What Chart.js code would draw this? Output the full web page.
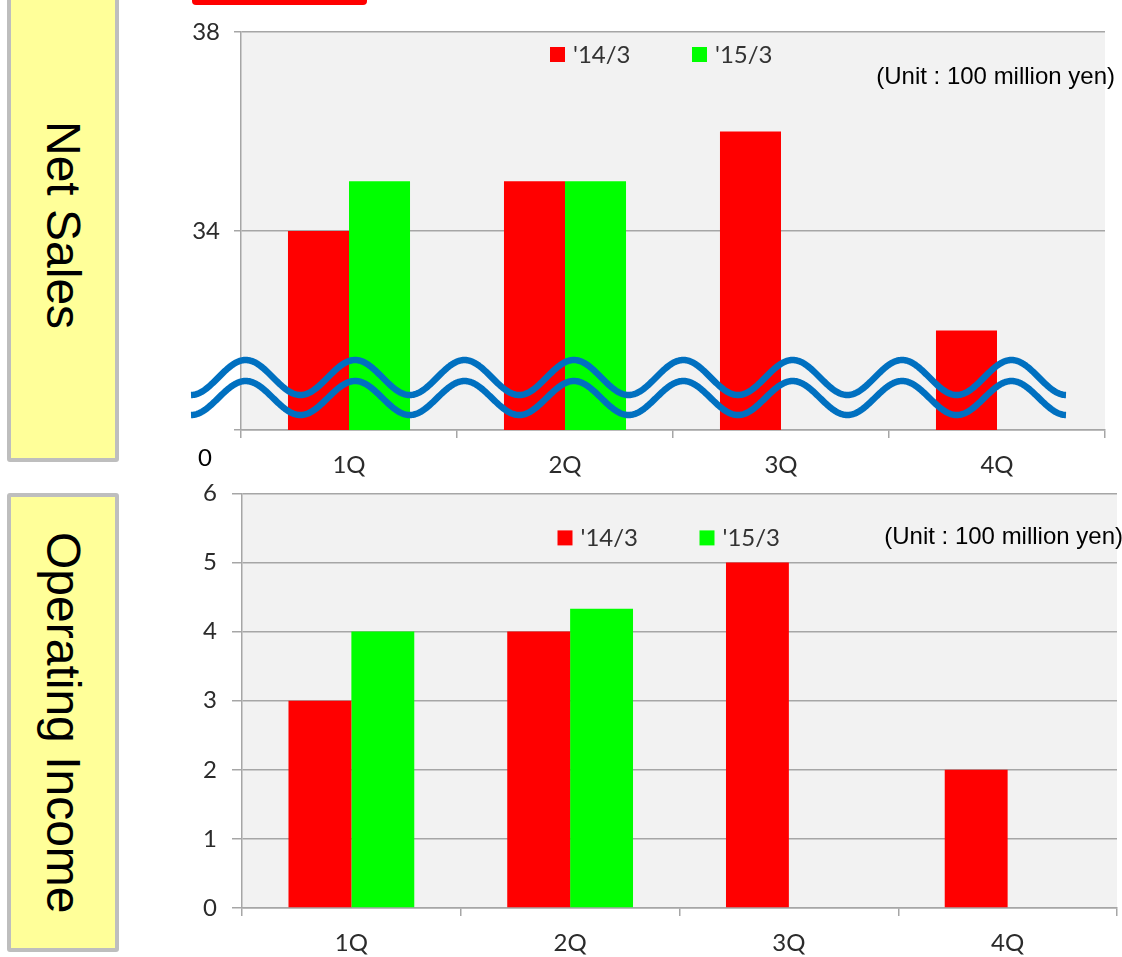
<!DOCTYPE html>
<html>
<head>
<meta charset="utf-8">
<script src="https://cdn.jsdelivr.net/npm/chart.js@4/dist/chart.umd.min.js"></script>
<style>
  html, body { margin: 0; padding: 0; background: #fff; }
  body { width: 1122px; height: 957px; position: relative; overflow: hidden; }
  .side {
    position: absolute; left: 7px; width: 104px;
    background: #FFFF99; border: 4px solid #BEBEBE; border-radius: 3px;
    display: flex; align-items: center; justify-content: center;
  }
  .side span {
    writing-mode: vertical-rl;
    font-family: "Liberation Sans", Arial, sans-serif;
    font-size: 48px; color: #000; white-space: nowrap;
  }
  #tab {
    position: absolute; left: 192px; top: -6px; width: 175px; height: 11px;
    background: #FF0000; border-radius: 4px;
  }
  canvas { position: absolute; left: 140px; }
</style>
</head>
<body>
<div class="side" style="top:-12px;height:466px;"><span>Net Sales</span></div>
<div class="side" style="top:493px;height:451px;"><span>Operating Income</span></div>
<div id="tab"></div>
<canvas id="sales" width="982" height="480" style="top:0;"></canvas>
<canvas id="income" width="982" height="493" style="top:464px;"></canvas>
<script>
// Quarters and fiscal years
const categories = ['1Q', '2Q', '3Q', '4Q'];
const seriesLabels = ["'14/3", "'15/3"];

// Net sales (100 million yen)
const netSales14 = [34, 35, 36, 32];
const netSales15 = [35, 35, null, null];
const netSalesTicks = [30, 34, 38];

// Operating income (100 million yen)
const opIncome14 = [3, 4, 5, 2];
const opIncome15 = [4, 4.33, null, null];
const opIncomeTicks = [0, 1, 2, 3, 4, 5, 6];

const unitText = '(Unit : 100 million yen)';
const seriesColors = ['#FF0000', '#00FF00'];
const gridColor = '#A6A6A6';
const tickColor = '#2B2B2B';
const tickFont = { family: 'Lato, "Open Sans", sans-serif', size: 24 };

// Light grey plot background
const plotBackground = {
  id: 'plotBackground',
  beforeDraw(chart) {
    const { ctx, chartArea: a } = chart;
    ctx.save();
    ctx.fillStyle = '#F2F2F2';
    ctx.fillRect(a.left, a.top, a.right - a.left, a.bottom - a.top);
    ctx.restore();
  }
};

// Legend row and unit note inside the plot area
const innerLegend = {
  id: 'innerLegend',
  afterDatasetsDraw(chart, args, opts) {
    const { ctx, chartArea: a } = chart;
    const cx = (a.left + a.right) / 2 + opts.shift;
    const y = a.top + opts.legendY;
    ctx.save();
    ctx.font = '24px Lato, "Open Sans", sans-serif';
    ctx.textBaseline = 'middle';
    ctx.textAlign = 'left';
    chart.data.datasets.forEach((ds, i) => {
      const x = cx - 110 + i * 142;
      ctx.fillStyle = ds.backgroundColor;
      ctx.fillRect(x, y - 7, 15, 15);
      ctx.fillStyle = '#333';
      ctx.fillText(ds.label, x + 23, y + 1);
    });
    ctx.font = '24px "Liberation Sans", Arial, sans-serif';
    ctx.fillStyle = '#000';
    ctx.textAlign = 'right';
    ctx.fillText(unitText, a.right + opts.unitRight, a.top + opts.unitY);
    ctx.restore();
  }
};

// Axis-break waves across the lower part of the net sales plot, plus the zero mark
const axisBreak = {
  id: 'axisBreak',
  afterDatasetsDraw(chart) {
    const { ctx, chartArea: a } = chart;
    const period = 109.4;
    const x0 = a.left - 50;
    const x1 = x0 + period * 8;
    const waves = [
      { mid: a.bottom - 52.5, amp: 17.5 },
      { mid: a.bottom - 32, amp: 17 }
    ];
    ctx.save();
    ctx.strokeStyle = '#0070C0';
    ctx.lineWidth = 6.5;
    ctx.lineJoin = 'round';
    waves.forEach(w => {
      ctx.beginPath();
      for (let x = x0; x <= x1; x += 1) {
        const y = w.mid + w.amp * Math.cos(2 * Math.PI * (x - x0) / period);
        if (x === x0) ctx.moveTo(x, y); else ctx.lineTo(x, y);
      }
      ctx.stroke();
    });
    ctx.font = '24px Lato, "Open Sans", sans-serif';
    ctx.fillStyle = '#000';
    ctx.textAlign = 'center';
    ctx.textBaseline = 'middle';
    ctx.fillText('0', a.left - 36, a.bottom + 28);
    ctx.restore();
  }
};

function makeChart(id, data14, data15, ticks, opts) {
  return new Chart(document.getElementById(id), {
    type: 'bar',
    data: {
      labels: categories,
      datasets: [
        { label: seriesLabels[0], data: data14, backgroundColor: seriesColors[0], borderWidth: 0 },
        { label: seriesLabels[1], data: data15, backgroundColor: seriesColors[1], borderWidth: 0 }
      ]
    },
    options: {
      responsive: false,
      animation: false,
      devicePixelRatio: 1,
      layout: { padding: opts.padding },
      categoryPercentage: opts.catPct,
      barPercentage: 1,
      plugins: {
        legend: { display: false },
        tooltip: { enabled: false },
        innerLegend: opts.legend
      },
      scales: {
        x: {
          offset: true,
          grid: { offset: true, drawOnChartArea: false, color: gridColor, tickLength: 8, lineWidth: 1.5 },
          border: { color: gridColor, width: 1.5 },
          ticks: { color: tickColor, font: tickFont, padding: 13, maxRotation: 0 },
          afterFit(s) { s.height = opts.xHeight; }
        },
        y: {
          min: ticks[0],
          max: ticks[ticks.length - 1],
          afterBuildTicks(s) { s.ticks = ticks.map(v => ({ value: v })); },
          grid: { color: gridColor, tickLength: opts.yTick, lineWidth: 1.5 },
          border: { color: gridColor, width: 1.5 },
          ticks: {
            color: tickColor, font: tickFont, padding: opts.yPad,
            callback: v => (opts.hideFirst && v === ticks[0]) ? '' : String(v)
          },
          afterFit(s) { s.width = opts.yWidth; }
        }
      }
    },
    plugins: opts.plugins
  });
}

makeChart('sales', netSales14, netSales15, netSalesTicks, {
  padding: { top: 32, right: 17, bottom: 0, left: 0 },
  catPct: 0.565, xHeight: 50, yWidth: 101, yTick: 7, yPad: 14, hideFirst: true,
  legend: { shift: -13, legendY: 22, unitRight: 10, unitY: 45 },
  plugins: [plotBackground, innerLegend, axisBreak]
});

makeChart('income', opIncome14, opIncome15, opIncomeTicks, {
  padding: { top: 0, right: 5, bottom: 0, left: 0 },
  catPct: 0.575, xHeight: 49, yWidth: 102, yTick: 10, yPad: 15, hideFirst: false,
  legend: { shift: -12, legendY: 44, unitRight: 6, unitY: 44 },
  plugins: [plotBackground, innerLegend]
});
</script>
</body>
</html>
